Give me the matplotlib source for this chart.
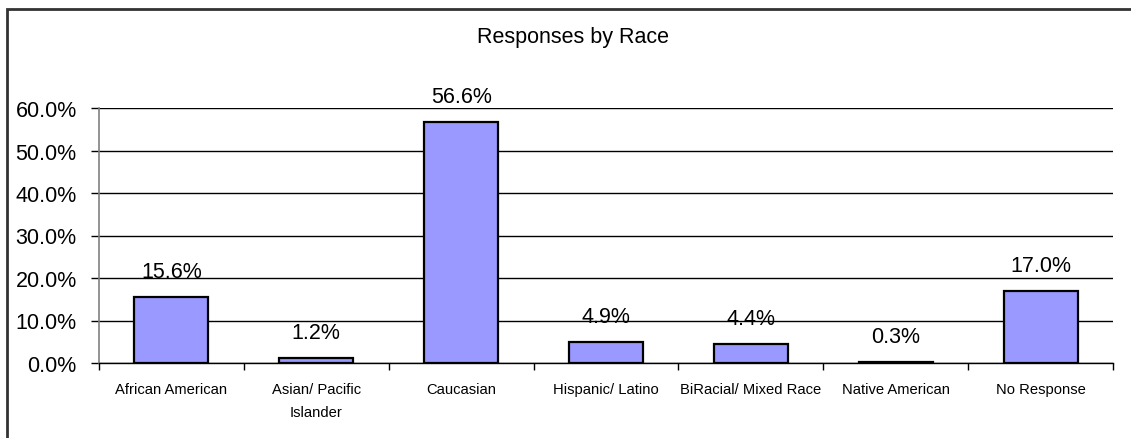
import numpy as np
import matplotlib
matplotlib.use('Agg')
import matplotlib.pyplot as plt
import matplotlib.patches as patches
from matplotlib.ticker import FixedLocator, PercentFormatter

plt.rcParams['font.family'] = ['Liberation Sans', 'DejaVu Sans']

#-----------------------------------------------------------------------------------------------------------------------------------

races = ['African American', 'Asian/ Pacific\nIslander', 'Caucasian', 'Hispanic/ Latino',
         'BiRacial/ Mixed Race', 'Native American', 'No Response']
shares = [15.6, 1.2, 56.6, 4.9, 4.4, 0.3, 17.0]
yticks = [0, 10, 20, 30, 40, 50, 60]

#-----------------------------------------------------------------------------------------------------------------------------------

fig = plt.figure(figsize=(11.31, 4.39), dpi=100)
ax = fig.add_axes([99/1131, 1 - 364/439, (1113 - 99)/1131, (364 - 109)/439])

x = np.arange(len(races))
bars = ax.bar(x, shares, width=0.51, color='#9999FF', edgecolor='black', linewidth=1.6, zorder=3)

for b, v in zip(bars, shares):
    ax.annotate('%.1f%%' % v, (b.get_x() + b.get_width()/2, v), xytext=(0, 14.5),
                textcoords='offset points', ha='center', va='baseline', fontsize=15.5, zorder=4)

ax.set_xlim(-0.5, len(races) - 0.5)
ax.set_ylim(0, 60)
ax.set_yticks(yticks)
ax.yaxis.set_major_formatter(PercentFormatter(decimals=1))
ax.yaxis.grid(True, color='black', linewidth=1.0, zorder=0)
ax.set_axisbelow(True)

# tick marks sit between categories, labels sit under the bars
ax.xaxis.set_major_locator(FixedLocator(np.arange(-0.5, len(races), 1.0)))
ax.xaxis.set_major_formatter(plt.NullFormatter())
ax.xaxis.set_minor_locator(FixedLocator(x))
ax.set_xticklabels(races, minor=True, fontsize=10.6, linespacing=1.75)
ax.tick_params(axis='x', which='major', length=5, width=1, color='black', direction='out')
ax.tick_params(axis='x', which='minor', length=0, pad=14)
ax.tick_params(axis='y', length=6, width=1, color='black', pad=10, labelsize=15.5)

for s in ['top', 'right']:
    ax.spines[s].set_visible(False)
ax.spines['left'].set_color('#808080')
ax.spines['left'].set_linewidth(1.2)
ax.spines['bottom'].set_color('black')
ax.spines['bottom'].set_linewidth(1.0)

fig.text(573/1131, 1 - 37/439, 'Responses by Race', ha='center', va='center', fontsize=15.5)

# chart area frame
frame = patches.Rectangle((7/1131, -0.1), 1.2, 1 - 10/439 + 0.1, transform=fig.transFigure,
                          fill=False, edgecolor='#333333', linewidth=2, clip_on=False)
fig.patches.append(frame)

plt.savefig('out.png')
